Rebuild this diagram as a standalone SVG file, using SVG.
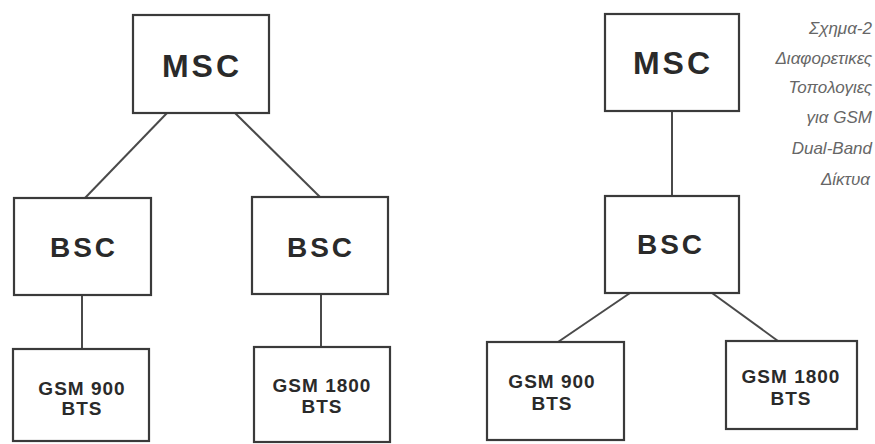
<svg xmlns="http://www.w3.org/2000/svg" width="875" height="444" viewBox="0 0 875 444">
<style>
.box{fill:#fff;stroke:#3a3a3a;stroke-width:2.2}
.ln{stroke:#4a4a4a;stroke-width:2;fill:none}
.big{font-family:"Liberation Sans",Arial,sans-serif;font-weight:bold;fill:#2a2a2a;text-anchor:middle}
.msc{font-size:32px;letter-spacing:3px}
.bsc{font-size:28px;letter-spacing:3px}
.bts{font-size:19px;letter-spacing:1px}
.cap{font-family:"Liberation Sans",Arial,sans-serif;font-style:italic;font-size:17px;fill:#666;text-anchor:end}
</style>
<rect width="875" height="444" fill="#fff"/>
<g id="connectors">
<line class="ln" x1="167" y1="113" x2="85" y2="198"/>
<line class="ln" x1="235" y1="113" x2="320" y2="197"/>
<line class="ln" x1="82" y1="295" x2="82" y2="349"/>
<line class="ln" x1="321" y1="294" x2="321" y2="347"/>
<line class="ln" x1="672" y1="111" x2="672" y2="196"/>
<line class="ln" x1="630" y1="293" x2="558" y2="342"/>
<line class="ln" x1="712" y1="293" x2="778" y2="341"/>
</g>
<g id="msc-left"><rect class="box" x="133" y="15" width="136" height="98"/><text class="big msc" x="202" y="77">MSC</text></g>
<g id="bsc-left-1"><rect class="box" x="14" y="198" width="137" height="97"/><text class="big bsc" x="84" y="257">BSC</text></g>
<g id="bsc-left-2"><rect class="box" x="252" y="197" width="136" height="97"/><text class="big bsc" x="321" y="257">BSC</text></g>
<g id="bts-left-900"><rect class="box" x="13" y="349" width="136" height="92"/><text class="big bts" x="82" y="395">GSM 900</text><text class="big bts" x="82" y="415">BTS</text></g>
<g id="bts-left-1800"><rect class="box" x="254" y="347" width="136" height="95"/><text class="big bts" x="322" y="392">GSM 1800</text><text class="big bts" x="322" y="413">BTS</text></g>
<g id="msc-right"><rect class="box" x="605" y="14" width="134" height="97"/><text class="big msc" x="673" y="74">MSC</text></g>
<g id="bsc-right"><rect class="box" x="605" y="196" width="134" height="97"/><text class="big bsc" x="671" y="254">BSC</text></g>
<g id="bts-right-900"><rect class="box" x="487" y="342" width="137" height="98"/><text class="big bts" x="552" y="388">GSM 900</text><text class="big bts" x="552" y="410">BTS</text></g>
<g id="bts-right-1800"><rect class="box" x="726" y="341" width="131" height="88"/><text class="big bts" x="791" y="383">GSM 1800</text><text class="big bts" x="791" y="405">BTS</text></g>
<g id="caption">
<text class="cap" x="872" y="34">Σχημα-2</text>
<text class="cap" x="872" y="64">Διαφορετικες</text>
<text class="cap" x="872" y="93">Τοπολογιες</text>
<text class="cap" x="872" y="123">για GSM</text>
<text class="cap" x="872" y="154">Dual-Band</text>
<text class="cap" x="870" y="185">Δίκτυα</text>
</g>
</svg>
